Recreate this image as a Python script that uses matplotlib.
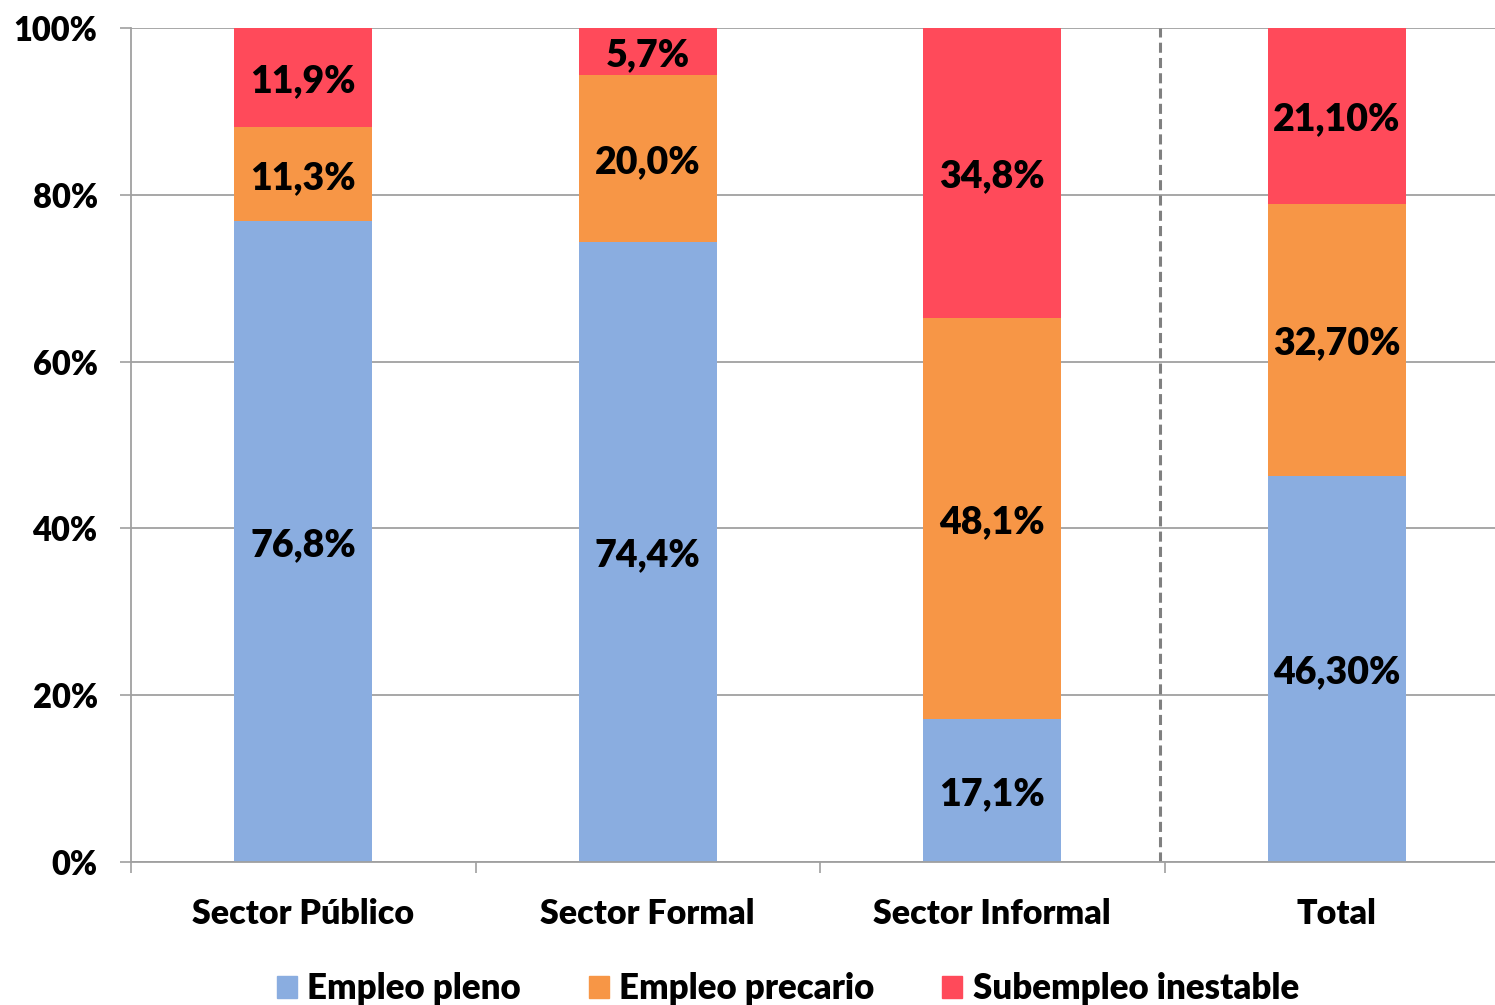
import numpy as np
import matplotlib
matplotlib.use("Agg")
import matplotlib.pyplot as plt
from matplotlib.patches import Patch

plt.rcParams['font.family'] = ['Lato', 'DejaVu Sans']
plt.rcParams['font.weight'] = 'heavy'

categories = ["Sector Público", "Sector Formal", "Sector Informal", "Total"]
series_names = ["Empleo pleno", "Empleo precario", "Subempleo inestable"]
pleno = [76.8, 74.4, 17.1, 46.3]
precario = [11.3, 20.0, 48.1, 32.7]
subempleo = [11.9, 5.7, 34.8, 21.1]
label_pleno = ["76,8%", "74,4%", "17,1%", "46,30%"]
label_precario = ["11,3%", "20,0%", "48,1%", "32,70%"]
label_subempleo = ["11,9%", "5,7%", "34,8%", "21,10%"]
y_ticks = [0, 20, 40, 60, 80, 100]

colors = ["#8AADE0", "#F79646", "#FF4A5A"]

data = np.array([pleno, precario, subempleo])
shares = data / data.sum(axis=0) * 100
labels = [label_pleno, label_precario, label_subempleo]

fig = plt.figure(figsize=(14.95, 10.05), dpi=100)
ax = fig.add_axes([131 / 1495, 143 / 1005, 1378 / 1495, 834 / 1005])

x = np.arange(len(categories))
bottom = np.zeros(len(categories))
for i in range(3):
    ax.bar(x, shares[i], bottom=bottom, width=0.4, color=colors[i], zorder=2)
    for j in range(len(categories)):
        ax.annotate(labels[i][j], (x[j], bottom[j] + shares[i][j] / 2),
                    xytext=(0, -2.5), textcoords="offset points",
                    ha="center", va="center", fontsize=27, color="black", zorder=3)
    bottom += shares[i]

ax.set_xlim(-0.5, 3.5)
ax.set_ylim(0, 100)
ax.set_yticks(y_ticks)
ax.set_yticklabels([f"{v}%" for v in y_ticks], fontsize=23.5)
ax.set_xticks(x)
ax.set_xticklabels(categories, fontsize=24.5)
ax.set_xticks([-0.5, 0.5, 1.5, 2.5], minor=True)
ax.tick_params(axis="x", which="major", length=0, pad=26)
ax.tick_params(axis="x", which="minor", length=8, width=1.2, color="#A0A0A0")
ax.tick_params(axis="y", length=8, width=1.2, color="#A0A0A0", pad=16)
ax.grid(axis="y", color="#A0A0A0", lw=1.3, zorder=0)
ax.set_axisbelow(True)
for s in ["top", "right"]:
    ax.spines[s].set_visible(False)
for s in ["left", "bottom"]:
    ax.spines[s].set_color("#A0A0A0")
    ax.spines[s].set_linewidth(1.3)

ax.axvline(2.487, color="#808080", lw=2.2, ls=(0, (3.3, 1.7)), zorder=1)

handles = [Patch(color=c) for c in colors]
fig.legend(handles, series_names, loc="center", bbox_to_anchor=(0.527, 0.016), ncol=3,
           frameon=False, fontsize=25, handlelength=0.58, handleheight=0.58,
           handletextpad=0.3, columnspacing=1.95)

fig.savefig("out.png", dpi=100)
